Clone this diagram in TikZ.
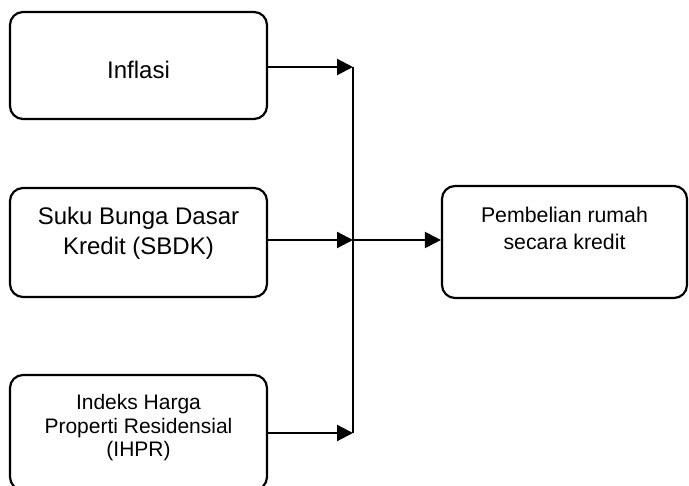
\documentclass[tikz,border=0pt]{standalone}
\usepackage{fontspec}
\setmainfont{Liberation Sans}
\usetikzlibrary{arrows.meta}
\begin{document}
\begin{tikzpicture}[x=1pt,y=-1pt,
  box/.style={draw, line width=2.2pt, rounded corners=13pt, minimum width=257pt, inner sep=0pt},
  txtbig/.style={align=center, font=\fontsize{24}{30}\selectfont, inner sep=0pt},
  txtsmall/.style={align=center, font=\fontsize{21}{23.5}\selectfont, inner sep=0pt},
  txtmid/.style={align=center, font=\fontsize{21.3}{27}\selectfont, inner sep=0pt},
  arr/.style={line width=2.2pt, -{Triangle[length=16pt,width=16pt]}},
  ln/.style={line width=2.2pt}]
\useasboundingbox (0,0) rectangle (689,486);
\node[box, minimum height=107pt] (b1) at (138.5,65.5) {};
\node[box, minimum height=109pt] (b2) at (138.5,242.5) {};
\node[box, minimum height=115pt] (b3) at (138.5,432.5) {};
\node[box, minimum width=245pt, minimum height=112pt] (b4) at (564.5,242) {};
\node[txtbig] (t1) at (138.5,70) {Inflasi};
\node[txtbig] (t2) at (138.5,233) {Suku Bunga Dasar\\Kredit (SBDK)};
\node[txtsmall] (t3) at (138.5,428) {Indeks Harga\\Properti Residensial\\(IHPR)};
\node[txtmid] (t4) at (564.5,228.5) {Pembelian rumah\\secara kredit};
\coordinate (j1) at (353,67);
\coordinate (j2) at (353,240);
\coordinate (j3) at (353,433);
\draw[ln] (j1) -- (j3);
\draw[arr] (b1.east |- j1) -- (j1);
\draw[arr] (b2.east |- j2) -- (j2);
\draw[arr] (b3.east |- j3) -- (j3);
\draw[arr] (j2) -- (b4.west |- j2);
\end{tikzpicture}
\end{document}
